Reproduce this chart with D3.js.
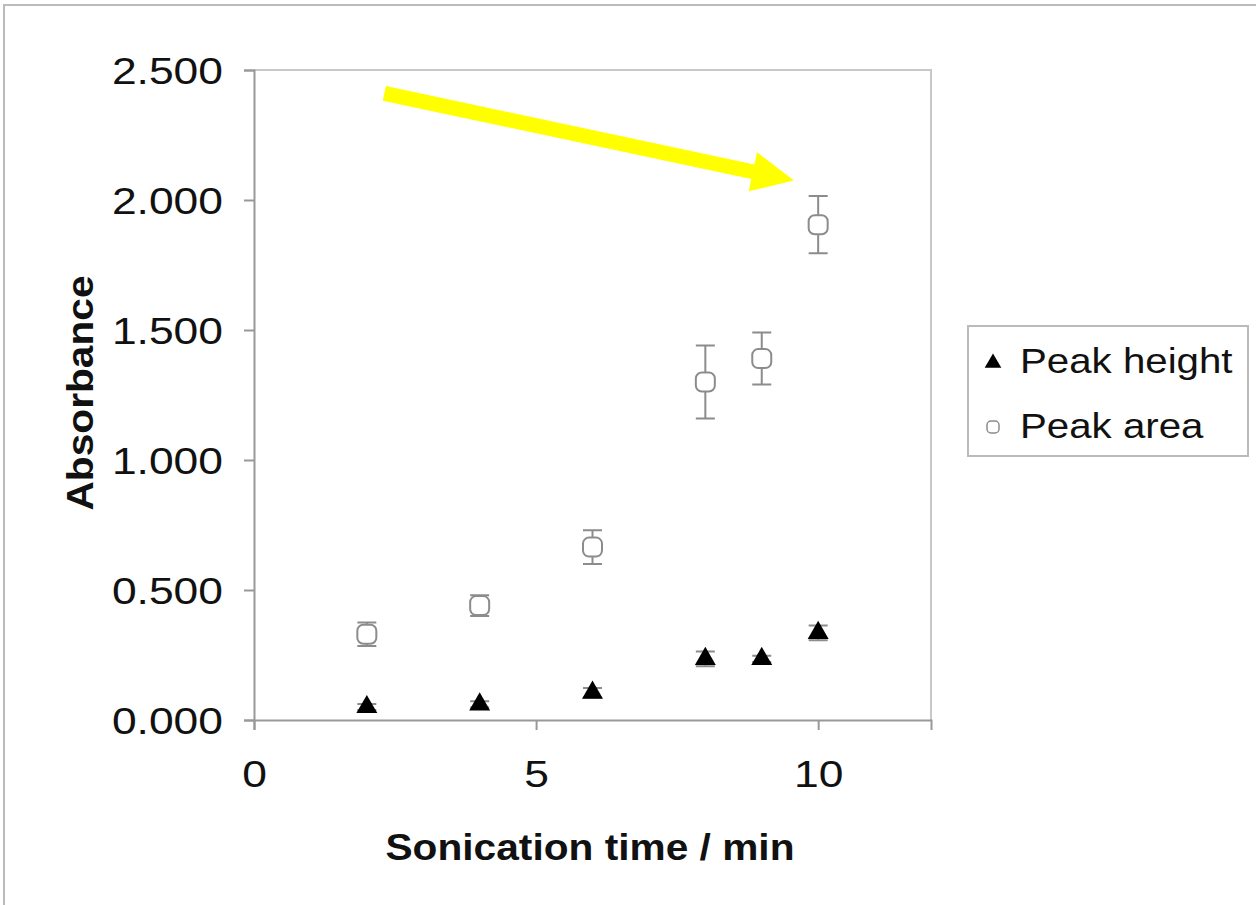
<!DOCTYPE html>
<html>
<head>
<meta charset="utf-8">
<script src="https://cdn.jsdelivr.net/npm/d3@7"></script>
<style>
  body { margin: 0; background: #fff; }
  svg { display: block; }
  text { font-family: "Liberation Sans", Arial, sans-serif; fill: #111; }
</style>
</head>
<body>
<script>
const times = [2, 4, 6, 8, 9, 10];
const peakHeight = [0.05, 0.06, 0.105, 0.235, 0.235, 0.335];
const peakHeightErr = [0.012, 0.012, 0.018, 0.028, 0.012, 0.028];
const peakArea = [0.33, 0.44, 0.665, 1.30, 1.39, 1.905];
const peakAreaErr = [0.045, 0.04, 0.065, 0.14, 0.10, 0.11];
const xTicks = [0, 5, 10];
const yTicks = [0, 0.5, 1.0, 1.5, 2.0, 2.5];
const legendLabels = ["Peak height", "Peak area"];
// arrow annotation, in data units
const arrowFrom = [2.31, 2.41];
const arrowTo = [9.57, 2.075];

const W = 1256, H = 905;
const sx = 1.2; // text looks horizontally stretched in the reference
const tsx = 1.13;

const svg = d3.select("body").append("svg").attr("width", W).attr("height", H);

// outer frame of the picture
svg.append("rect")
  .attr("x", 4).attr("y", 5).attr("width", W + 20).attr("height", H + 20)
  .attr("fill", "#fff").attr("stroke", "#bbb").attr("stroke-width", 2);

const x = d3.scaleLinear().domain([0, 12]).range([254, 931]);
const y = d3.scaleLinear().domain([0, 2.5]).range([720, 70]);

// plot frame (top + right)
svg.append("path")
  .attr("d", `M${x(0)},${y(2.5)}H${x(12)}V${y(0)}`)
  .attr("fill", "none").attr("stroke", "#c8c8c8").attr("stroke-width", 2);

// y axis
const yAxis = svg.append("g")
  .attr("transform", `translate(${x(0)},0)`)
  .call(d3.axisLeft(y).tickValues(yTicks).tickSize(10).tickFormat(d3.format(".3f")));
yAxis.select(".domain").attr("stroke", "#999").attr("stroke-width", 2);
yAxis.selectAll(".tick line").attr("stroke", "#999").attr("stroke-width", 2);
yAxis.selectAll(".tick text")
  .attr("x", -31 / sx).attr("dy", "0.36em")
  .attr("transform", `scale(${sx},1)`)
  .style("font-size", "37px").style("font-family", "Liberation Sans, Arial, sans-serif").attr("fill", "#111");

// x axis
const xAxis = svg.append("g")
  .attr("transform", `translate(0,${y(0)})`)
  .call(d3.axisBottom(x).tickValues(xTicks).tickSize(10).tickFormat(d3.format("d")));
xAxis.select(".domain").attr("stroke", "#999").attr("stroke-width", 2);
xAxis.selectAll(".tick line").attr("stroke", "#999").attr("stroke-width", 2);
xAxis.selectAll(".tick text")
  .attr("y", 67).attr("dy", 0)
  .attr("transform", `scale(${sx},1)`)
  .style("font-size", "37px").style("font-family", "Liberation Sans, Arial, sans-serif").attr("fill", "#111");

// axis titles
svg.append("text")
  .attr("transform", `translate(590,860) scale(${tsx},1)`)
  .attr("text-anchor", "middle")
  .style("font-size", "36px").style("font-weight", "bold")
  .text("Sonication time / min");

svg.append("text")
  .attr("transform", `translate(93,393) rotate(-90) scale(${tsx},1)`)
  .attr("text-anchor", "middle")
  .style("font-size", "36px").style("font-weight", "bold")
  .text("Absorbance");

// error bars
function errorBars(vals, errs, color, capW) {
  const g = svg.append("g").attr("stroke", color).attr("stroke-width", 2).attr("fill", "none");
  times.forEach((t, i) => {
    const cx = x(t), top = y(vals[i] + errs[i]), bot = y(vals[i] - errs[i]);
    g.append("path")
      .attr("d", `M${cx},${top}V${bot}M${cx - capW / 2},${top}H${cx + capW / 2}M${cx - capW / 2},${bot}H${cx + capW / 2}`);
  });
}
errorBars(peakArea, peakAreaErr, "#8c8c8c", 19);
errorBars(peakHeight, peakHeightErr, "#8c8c8c", 19);

// peak area markers (open rounded squares)
svg.append("g").selectAll("rect")
  .data(times)
  .join("rect")
  .attr("x", (d) => x(d) - 9.5)
  .attr("y", (d, i) => y(peakArea[i]) - 9.5)
  .attr("width", 19).attr("height", 19).attr("rx", 6)
  .attr("fill", "#fff").attr("stroke", "#8c8c8c").attr("stroke-width", 2);

// peak height markers (filled triangles)
const tri = d3.symbol().type(d3.symbolTriangle).size(190);
svg.append("g").selectAll("path")
  .data(times)
  .join("path")
  .attr("d", tri)
  .attr("transform", (d, i) => `translate(${x(d)},${y(peakHeight[i])})`)
  .attr("fill", "#000");

// legend
const lg = svg.append("g");
lg.append("rect")
  .attr("x", 968).attr("y", 326).attr("width", 280).attr("height", 130)
  .attr("fill", "#fff").attr("stroke", "#bbb").attr("stroke-width", 2);
lg.append("path")
  .attr("d", d3.symbol().type(d3.symbolTriangle).size(120))
  .attr("transform", "translate(993,363)").attr("fill", "#000");
lg.append("rect")
  .attr("x", 987).attr("y", 421).attr("width", 12).attr("height", 12).attr("rx", 4)
  .attr("fill", "#fff").attr("stroke", "#8c8c8c").attr("stroke-width", 1.5);
lg.selectAll("text.lab")
  .data(legendLabels)
  .join("text")
  .attr("class", "lab")
  .attr("transform", (d, i) => `translate(1020,${373 + i * 65}) scale(1.15,1)`)
  .style("font-size", "35px")
  .text((d) => d);

// yellow arrow
const ax0 = x(arrowFrom[0]), ay0 = y(arrowFrom[1]);
const ax1 = x(arrowTo[0]), ay1 = y(arrowTo[1]);
const len = Math.hypot(ax1 - ax0, ay1 - ay0);
const ang = Math.atan2(ay1 - ay0, ax1 - ax0) * 180 / Math.PI;
const shaftW = 15, headL = 42, headW = 40;
svg.append("path")
  .attr("transform", `translate(${ax0},${ay0}) rotate(${ang})`)
  .attr("d", `M0,${-shaftW / 2}H${len - headL}V${-headW / 2}L${len},0L${len - headL},${headW / 2}V${shaftW / 2}H0Z`)
  .attr("fill", "#ffff00");
</script>
</body>
</html>
